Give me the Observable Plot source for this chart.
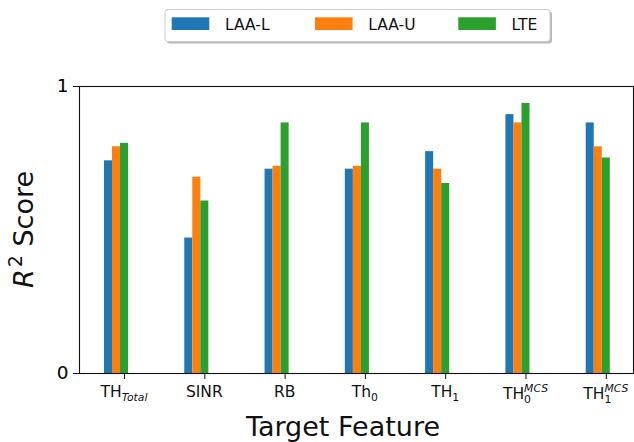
<!DOCTYPE html>
<html>
<head>
<meta charset="utf-8">
<script src="https://cdn.jsdelivr.net/npm/d3@7"></script>
<script src="https://cdn.jsdelivr.net/npm/@observablehq/plot@0.6"></script>
<style>
  body { margin: 0; background: #fff; }
  svg { display: block; }
</style>
</head>
<body>
<div id="chart"></div>
<script>
// Target features: base symbol, subscript and superscript parts
const featureBase = ["TH", "SINR", "RB", "Th", "TH", "TH", "TH"];
const featureSub  = ["Total", "", "", "0", "1", "0", "1"];
const featureSup  = ["", "", "", "", "", "MCS", "MCS"];

// R^2 score per target feature
const laaL = [0.741, 0.472, 0.712, 0.712, 0.773, 0.902, 0.873];
const laaU = [0.790, 0.684, 0.722, 0.722, 0.712, 0.873, 0.790];
const lte  = [0.802, 0.601, 0.873, 0.873, 0.662, 0.941, 0.751];

const seriesNames = ["LAA-L", "LAA-U", "LTE"];
const seriesColors = ["#1f77b4", "#ff7f0e", "#2ca02c"];
const seriesValues = [laaL, laaU, lte];

const yTicks = [0, 1];

const rows = [];
seriesValues.forEach((vals, k) =>
  vals.forEach((v, i) => rows.push({i, k, series: seriesNames[k], value: v}))
);

const BAR = 0.1; // bar width in category units; LTE bar sits on the tick
const font = "DejaVu Sans, Liberation Sans, sans-serif";

const plot = Plot.plot({
  width: 634,
  height: 442,
  marginTop: 86,
  marginBottom: 69,
  marginLeft: 79,
  marginRight: 1,
  style: {fontFamily: font, background: "white", color: "#000"},
  x: {domain: [-0.561, 6.339], axis: null},
  y: {domain: [0, 1], axis: null},
  color: {domain: seriesNames, range: seriesColors},
  marks: [
    Plot.rectY(rows, {
      x1: d => d.i + (d.k - 2) * BAR - BAR / 2,
      x2: d => d.i + (d.k - 2) * BAR + BAR / 2,
      y1: 0,
      y2: "value",
      fill: "series"
    }),
    Plot.frame({stroke: "#111", strokeWidth: 1.1}),
    Plot.axisX({ticks: d3.range(featureBase.length), tickSize: 6, tickFormat: () => "", stroke: "#111"}),
    Plot.axisY({ticks: yTicks, tickSize: 6, tickPadding: 5, tickFormat: d3.format("d"), fontSize: 18.5, label: null, stroke: "#111"})
  ]
});

document.getElementById("chart").appendChild(plot);

const svg = d3.select(plot);
const xs = plot.scale("x");
const tickY = 396.7;

// x tick labels with mathtext-like sub/superscripts
featureBase.forEach((base, i) => {
  const t = svg.append("text")
    .attr("x", xs.apply(i))
    .attr("y", tickY + (featureSup[i] ? 2 : 0))
    .attr("text-anchor", "middle")
    .attr("font-family", font)
    .attr("font-size", 15.5)
    .attr("fill", "#111");
  t.append("tspan").text(base);
  const sub = featureSub[i], sup = featureSup[i];
  const italicSub = /[A-Za-z]/.test(sub);
  if (sub) {
    const s = t.append("tspan")
      .attr("font-size", 10.8)
      .attr("dy", 4)
      .attr("font-style", italicSub ? "italic" : "normal")
      .text(sub);
    if (sup) {
      const w = s.node().getComputedTextLength();
      t.append("tspan")
        .attr("font-size", 10.8)
        .attr("font-style", "italic")
        .attr("dx", -w)
        .attr("dy", -11)
        .text(sup);
    }
  }
});

// x axis title
svg.append("text")
  .attr("x", 343)
  .attr("y", 435.7)
  .attr("text-anchor", "middle")
  .attr("font-family", font)
  .attr("font-size", 27)
  .attr("fill", "#111")
  .text("Target Feature");

// y axis title: R² Score
const yl = svg.append("text")
  .attr("transform", "translate(33,229.5) rotate(-90)")
  .attr("text-anchor", "middle")
  .attr("font-family", font)
  .attr("font-size", 27)
  .attr("fill", "#111");
yl.append("tspan").attr("font-style", "italic").text("R");
yl.append("tspan").attr("font-size", 19).attr("dy", -11).attr("dx", 2).text("2");
yl.append("tspan").attr("dy", 11).text(" Score");

// legend box with shadow
const legend = svg.append("g").attr("font-family", font).attr("text-anchor", "start");
legend.append("rect")
  .attr("x", 167).attr("y", 11.5).attr("width", 385).attr("height", 32)
  .attr("rx", 3).attr("fill", "#888").attr("opacity", 0.6);
legend.append("rect")
  .attr("x", 165).attr("y", 9.5).attr("width", 385).attr("height", 32)
  .attr("rx", 3).attr("fill", "white").attr("stroke", "#ccc").attr("stroke-width", 1);
seriesNames.forEach((name, k) => {
  const x0 = 171.7 + k * 143.3;
  legend.append("rect")
    .attr("x", x0).attr("y", 17.3).attr("width", 37.6).attr("height", 12.7)
    .attr("fill", seriesColors[k]);
  legend.append("text")
    .attr("x", x0 + 53.3).attr("y", 30)
    .attr("text-anchor", "start")
    .attr("font-size", 15.5).attr("fill", "#111")
    .text(name);
});
</script>
</body>
</html>
